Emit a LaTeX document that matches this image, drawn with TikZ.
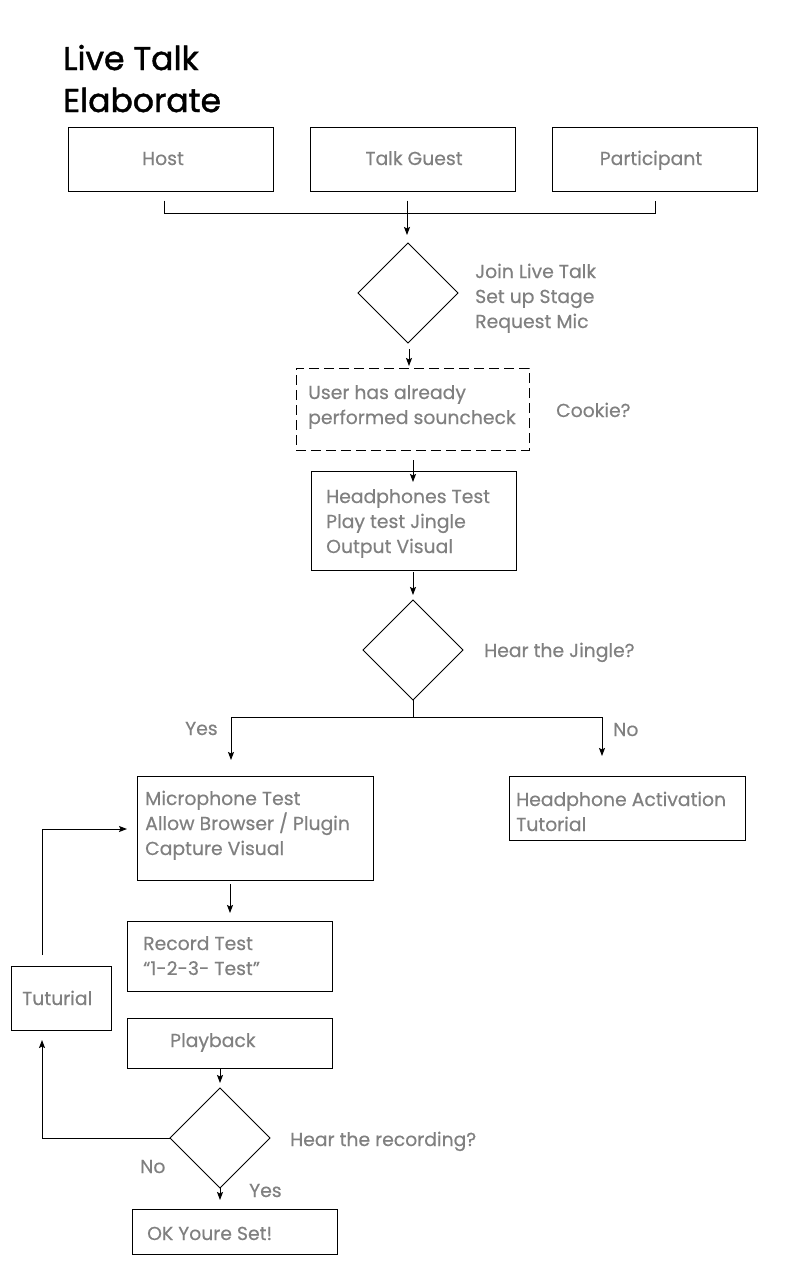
\documentclass[tikz,border=0pt]{standalone}
\usepackage{fontspec}
\setmainfont{Poppins}[FakeBold=0.4]
\newfontfamily\titlefont{Poppins}[FakeBold=1.3]
\usetikzlibrary{shapes.geometric,arrows.meta,calc}
\definecolor{txtgray}{HTML}{808080}
\begin{document}
\begin{tikzpicture}[x=1pt,y=-1pt,
  box/.style={draw,line width=1pt,rectangle,inner sep=0pt,outer sep=0pt},
  dia/.style={draw,line width=0.8pt,diamond,inner sep=0pt,outer sep=0pt,minimum width=100pt,minimum height=100pt},
  txt/.style={text=txtgray,font=\fontsize{18.8}{25}\selectfont,anchor=base west,inner sep=0pt,align=left},
  conn/.style={line width=1pt},
  arr/.style={line width=1pt,-{Stealth[length=8pt,width=6pt,inset=1.5pt]}},
]
\useasboundingbox (0,0) rectangle (800,1280);
\fill[white] (0,0) rectangle (800,1280);

% title (anchor = baseline of last line)
\node[anchor=base west,font=\titlefont\fontsize{33}{42}\selectfont,inner sep=0pt,align=left] (title) at (63,112) {Live Talk\\Elaborate};

% roles
\node[box,minimum width=205pt,minimum height=64pt] (host) at (170.5,159.5) {};
\node[box,minimum width=205pt,minimum height=64pt] (guest) at (412.5,159.5) {};
\node[box,minimum width=205pt,minimum height=64pt] (part) at (654.5,159.5) {};
\node[txt,anchor=base] (thost) at (163,165) {Host};
\node[txt,anchor=base] (tguest) at (414,165) {Talk Guest};
\node[txt,anchor=base] (tpart) at (651,165) {Participant};

% decision 1
\node[dia] (d1) at (408,293) {};
\node[txt] (td1) at (475,328) {Join Live Talk\\Set up Stage\\Request Mic};

% cookie
\node[box,dash pattern=on 10pt off 5pt,minimum width=233pt,minimum height=82pt] (cookie) at (412.5,409) {};
\node[txt] (tcook) at (308,424) {User has already\\performed souncheck};
\node[txt] (tcq) at (556,417) {Cookie?};

% headphones test
\node[box,minimum width=205pt,minimum height=99pt] (hp) at (413.5,520.5) {};
\node[txt] (thp) at (326,553) {Headphones Test\\Play test Jingle\\Output Visual};

% decision 2
\node[dia] (d2) at (413,650) {};
\node[txt] (td2) at (484,657) {Hear the Jingle?};
\node[txt] (tyes1) at (185,735) {Yes};
\node[txt] (tno1) at (613,736) {No};

% microphone test
\node[box,minimum width=236pt,minimum height=104pt] (mic) at (255,828) {};
\node[txt] (tmic) at (145,855) {Microphone Test\\Allow Browser / Plugin\\Capture Visual};

% headphone activation
\node[box,minimum width=236pt,minimum height=64pt] (hpa) at (627,808) {};
\node[txt] (thpa) at (516,831) {Headphone Activation\\Tutorial};

% record
\node[box,minimum width=205pt,minimum height=70pt] (rec) at (229.5,956) {};
\node[txt] (trec) at (143,975) {Record Test\\“1-2-3- Test”};

% tutorial
\node[box,minimum width=100pt,minimum height=64pt] (tut) at (61,998) {};
\node[txt] (ttut) at (22,1005) {Tuturial};

% playback
\node[box,minimum width=205pt,minimum height=50pt] (play) at (229.5,1043) {};
\node[txt] (tplay) at (170,1047) {Playback};

% decision 3
\node[dia] (d3) at (220,1138) {};
\node[txt] (td3) at (290,1146) {Hear the recording?};
\node[txt] (tno2) at (140,1173) {No};
\node[txt] (tyes2) at (249,1197) {Yes};

% ok
\node[box,minimum width=205pt,minimum height=45pt] (ok) at (234.5,1231.5) {};
\node[txt] (tok) at (147,1240) {OK Youre Set!};

% connectors
\coordinate (jR) at (655,213);
\draw[conn] ($(host.south)+(-6.5,9)$) |- (jR) -- ($(part.south)+(0.5,9)$);
\draw[arr] ($(guest.south)+(-5.5,9)$) -- ($(d1.north)+(-1,-8)$);
\draw[arr] ($(d1.south)+(1,6)$) -- ($(d1.south |- cookie.north)+(1,-2)$);
\draw[arr] ($(cookie.south)+(0.5,10)$) -- ($(hp.north)+(-0.5,11)$);
\draw[arr] ($(hp.south)+(-0.5,2)$) -- ($(d2.north)+(0,-5)$);

\coordinate (yb) at (231,717);
\coordinate (nb) at (602,717);
\draw[conn] (d2.south) -- (d2.south |- yb);
\draw[arr] (d2.south |- yb) -- (yb) -- ($(yb |- mic.north)+(0,-16)$);
\draw[arr] (d2.south |- yb) -- (nb) -- ($(nb |- hpa.north)+(0,-20)$);

\draw[arr] ($(mic.south -| rec.north)+(0.5,4)$) -- ($(rec.north)+(0.5,-8)$);
\draw[arr] (d3.north |- play.south) -- ($(d3.north)+(0,-5)$);
\draw[arr] (d3.west) -| ($(tut.south)+(-19,10)$);
\draw[arr] ($(tut.north)+(-19,-11)$) |- ($(mic.west)+(-10,1)$);
\draw[arr] (d3.south) -- ($(d3.south |- ok.north)+(0,-9)$);
\end{tikzpicture}
\end{document}
